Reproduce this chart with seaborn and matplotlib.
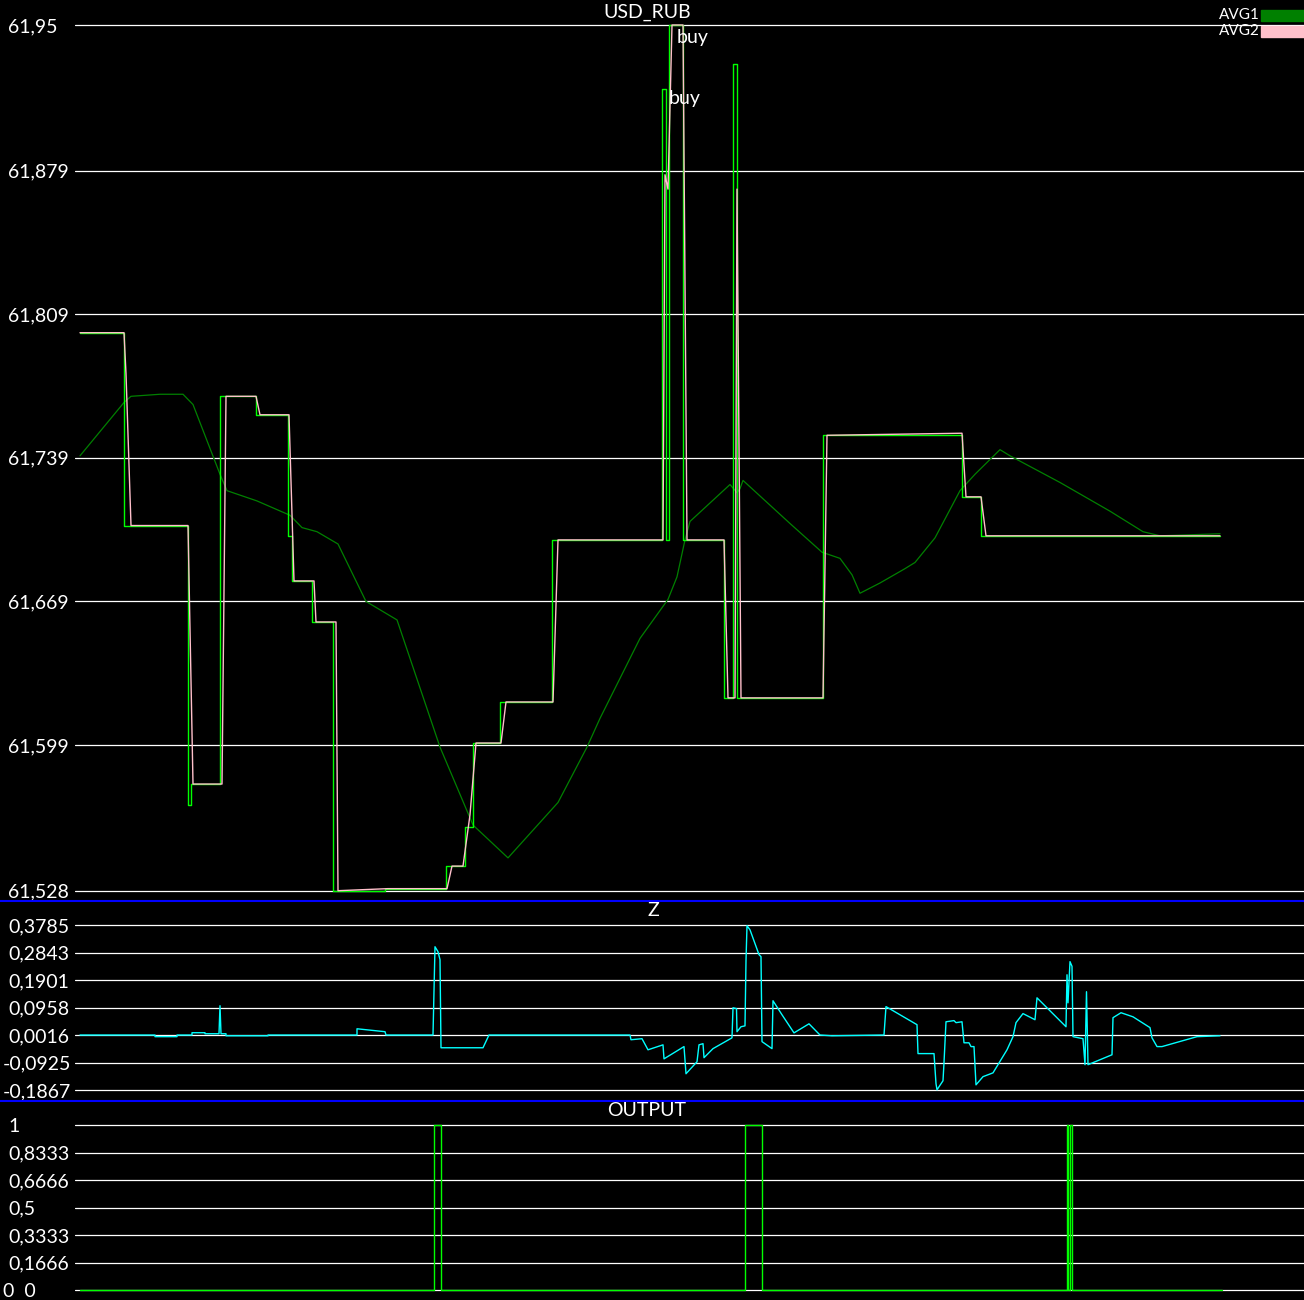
import numpy as np
import pandas as pd
import seaborn as sns
import matplotlib.pyplot as plt
from matplotlib.lines import Line2D
from matplotlib.patches import Rectangle

# ---- data (time index = tick number) ----
# raw price, bright green step line
price_t = [0, 44, 108, 111, 140, 176, 208, 212, 232, 253, 305, 366, 385, 393, 420, 472,
           582, 586, 589, 603, 644, 653, 657, 743, 882, 901, 1140]
price_val = [61.800, 61.706, 61.570, 61.580, 61.769, 61.760, 61.701, 61.679, 61.659, 61.528,
             61.529, 61.540, 61.559, 61.600, 61.620, 61.699, 61.919, 61.699, 61.950, 61.699,
             61.622, 61.931, 61.622, 61.750, 61.720, 61.701, 61.701]

# AVG2 (pink, short average)
avg2_t = [0, 44, 46, 51, 108, 113, 142, 146, 176, 180, 209, 214, 234, 236, 256, 258, 308, 367,
          372, 383, 390, 396, 421, 426, 473, 478, 583, 585, 588, 592, 603, 607, 644, 648, 655,
          657, 661, 743, 747, 882, 886, 901, 906, 1140]
avg2_val = [61.800, 61.800, 61.780, 61.706, 61.706, 61.580, 61.580, 61.769, 61.769, 61.760,
            61.760, 61.679, 61.679, 61.659, 61.659, 61.528, 61.529, 61.529, 61.540, 61.540,
            61.565, 61.600, 61.600, 61.620, 61.620, 61.699, 61.699, 61.877, 61.870, 61.950,
            61.950, 61.699, 61.699, 61.622, 61.622, 61.870, 61.622, 61.622, 61.750, 61.751,
            61.720, 61.720, 61.701, 61.701]

# AVG1 (dark green, long average)
avg1_t = [0, 44, 51, 80, 103, 113, 140, 147, 177, 210, 222, 237, 258, 286, 317, 360, 393, 428,
          478, 507, 520, 560, 588, 597, 605, 610, 650, 657, 660, 663, 710, 742, 760, 772, 780,
          800, 825, 835, 855, 880, 895, 920, 930, 980, 1030, 1063, 1080, 1140]
avg1_val = [61.740, 61.766, 61.769, 61.770, 61.770, 61.765, 61.731, 61.723, 61.718, 61.711,
            61.705, 61.703, 61.697, 61.669, 61.660, 61.598, 61.560, 61.544, 61.571, 61.598,
            61.612, 61.651, 61.670, 61.681, 61.699, 61.708, 61.726, 61.722, 61.724, 61.728,
            61.707, 61.693, 61.690, 61.682, 61.673, 61.678, 61.685, 61.688, 61.700, 61.723,
            61.731, 61.743, 61.740, 61.727, 61.713, 61.703, 61.701, 61.702]

# Z indicator (cyan)
z_t = [0, 75, 75, 97, 97, 112, 112, 125, 125, 139, 140, 141, 146, 146, 188, 188, 277, 277, 305,
       306, 353, 355, 358, 360, 361, 403, 409, 550, 551, 562, 568, 583, 584, 604, 606, 617, 619,
       623, 624, 633, 652, 653, 656.5, 657, 661, 665, 666, 667, 670, 679, 681, 682, 692, 693,
       702, 714, 729, 740, 752, 804, 806, 837, 838, 854, 856, 857, 863, 864, 866, 874, 876, 882,
       884, 889, 891, 894, 896, 903, 913, 927, 933, 936, 943, 955, 957, 986, 987, 988, 990, 992,
       993, 1003, 1005, 1006.5, 1008, 1032, 1033, 1041, 1053, 1070, 1072, 1077, 1082, 1117, 1140]
z_val = [0.0016, 0.0016, -0.004, -0.004, 0.0016, 0.0016, 0.0095, 0.0095, 0.006, 0.006, 0.102,
         0.006, 0.006, -0.001, -0.001, 0.0016, 0.0016, 0.023, 0.013, 0.0016, 0.0016, 0.304,
         0.287, 0.260, -0.042, -0.042, 0.0016, 0.0016, -0.0145, -0.011, -0.049, -0.032, -0.080,
         -0.038, -0.131, -0.090, -0.032, -0.028, -0.076, -0.045, -0.008, 0.095, 0.092, 0.013,
         0.030, 0.033, 0.256, 0.376, 0.362, 0.277, 0.270, -0.021, -0.045, 0.119, 0.071, 0.009,
         0.040, 0.0016, -0.001, 0.0016, 0.099, 0.037, -0.062, -0.062, -0.165, -0.186, -0.155,
         -0.093, 0.047, 0.051, 0.044, 0.047, -0.025, -0.025, -0.038, -0.038, -0.169, -0.141,
         -0.128, -0.049, -0.004, 0.044, 0.075, 0.054, 0.129, 0.030, 0.208, 0.112, 0.253, 0.237,
         -0.004, -0.011, -0.100, 0.150, -0.100, -0.066, 0.061, 0.078, 0.064, 0.027, -0.008,
         -0.038, -0.038, -0.004, -0.001]

# OUTPUT signal (step)
out_t = [0, 354, 361, 665, 682, 987, 988, 989.5, 992, 1142]
out_val = [0, 1, 0, 1, 0, 1, 0, 1, 0, 0]

# buy labels
buy_t = [597, 589]
buy_price = [61.944, 61.914]

price_ticks = [61.95, 61.879, 61.809, 61.739, 61.669, 61.599, 61.528]
price_labels = ["61,95", "61,879", "61,809", "61,739", "61,669", "61,599", "61,528"]
z_ticks = [0.3785, 0.2843, 0.1901, 0.0958, 0.0016, -0.0925, -0.1867]
z_labels = ["0,3785", "0,2843", "0,1901", "0,0958", "0,0016", "-0,0925", "-0,1867"]
out_ticks = [1, 0.8333, 0.6666, 0.5, 0.3333, 0.1666, 0]
out_labels = ["1", "0,8333", "0,6666", "0,5", "0,3333", "0,1666", "0  0"]

# ---- style ----
sns.set_style("dark", rc={"axes.facecolor": "black", "figure.facecolor": "black",
                          "axes.edgecolor": "black", "grid.color": "white",
                          "text.color": "white", "ytick.color": "white"})
plt.rcParams['font.family'] = ['Lato', 'DejaVu Sans']

W, H = 1304, 1300
fig = plt.figure(figsize=(W / 100, H / 100), dpi=100)


def make_axes(top_px, bot_px, ticks, labels, first_px, last_px):
    ax = fig.add_axes([75 / W, 1 - bot_px / H, 1 - 75 / W, (bot_px - top_px) / H])
    hi, lo = ticks[0], ticks[-1]
    s = (hi - lo) / (last_px - first_px)
    ax.set_ylim(lo - (bot_px - last_px) * s, hi + (first_px - top_px) * s)
    ax.set_xlim(-5, 1224)
    ax.set_yticks(ticks)
    ax.set_yticklabels(labels)
    ax.set_xticks([])
    ax.grid(axis='y', color='white', linewidth=0.9)
    ax.tick_params(axis='y', length=0, labelsize=14, labelcolor='white')
    for sp in ax.spines.values():
        sp.set_visible(False)
    for lab in ax.get_yticklabels():
        lab.set_horizontalalignment('left')
    for tk, lab in zip(ax.yaxis.get_major_ticks(), labels):
        tk.set_pad(52 if (lab.startswith('-') or lab.startswith('0  ')) else 48)
    return ax


ax1 = make_axes(0, 900, price_ticks, price_labels, 25, 890.7)
ax2 = make_axes(900, 1100, z_ticks, z_labels, 925, 1090)
ax3 = make_axes(1100, 1300, out_ticks, out_labels, 1125, 1290.3)

# top panel
sns.lineplot(x=avg1_t, y=avg1_val, ax=ax1, color='#008000', linewidth=0.9,
             estimator=None, sort=False, legend=False)
sns.lineplot(x=price_t, y=price_val, ax=ax1, color='#00ff00', linewidth=1.0,
             drawstyle='steps-post', estimator=None, sort=False, legend=False)
sns.lineplot(x=avg2_t, y=avg2_val, ax=ax1, color='#ffc0cb', linewidth=1.0,
             estimator=None, sort=False, legend=False)
for t, p in zip(buy_t, buy_price):
    ax1.text(t, p, "buy", color='white', fontsize=14, ha='left', va='center')

# Z panel
sns.lineplot(x=z_t, y=z_val, ax=ax2, color='#00ffff', linewidth=1.0,
             estimator=None, sort=False, legend=False)

# OUTPUT panel
sns.lineplot(x=out_t, y=out_val, ax=ax3, color='#00ff00', linewidth=1.0,
             drawstyle='steps-post', estimator=None, sort=False, legend=False)

for ax in (ax1, ax2, ax3):
    ax.set_xlabel('')
    ax.set_ylabel('')

# titles
fig.text(647 / W, 1 - 12 / H, "USD_RUB", color='white', fontsize=14, ha='center', va='center')
fig.text(653 / W, 1 - 911 / H, "Z", color='white', fontsize=14, ha='center', va='center')
fig.text(647 / W, 1 - 1111 / H, "OUTPUT", color='white', fontsize=14, ha='center', va='center')

# panel separators
for ypx in (900.5, 1100.5):
    fig.add_artist(Line2D([0, 1], [1 - ypx / H] * 2, color='#0000ff', linewidth=1.5,
                          transform=fig.transFigure))

# legend
for i, (name, col) in enumerate([("AVG1", '#008000'), ("AVG2", '#ffc0cb')]):
    yc = 15 + 16 * i
    fig.add_artist(Rectangle((1261 / W, 1 - (yc + 5.5) / H), 43 / W, 11 / H, color=col,
                             transform=fig.transFigure, zorder=5))
    fig.text(1260 / W, 1 - yc / H, name, color='white', fontsize=11, ha='right', va='center',
             zorder=6)

fig.savefig("out.png", dpi=100, facecolor='black')
